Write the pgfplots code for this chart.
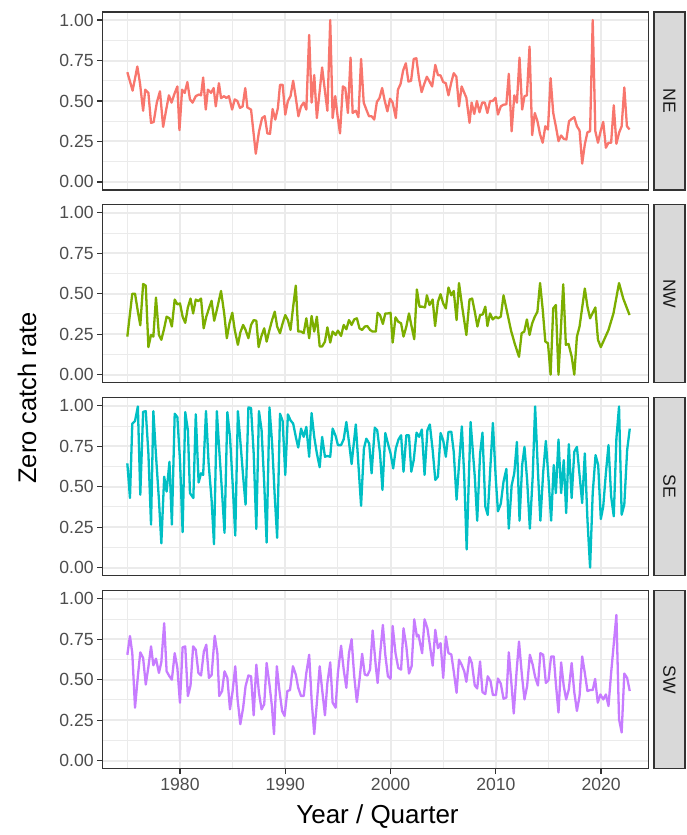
\documentclass[border=0pt]{standalone}
\usepackage{pgfplots}
\pgfplotsset{compat=1.18}
\usepackage{fontspec}
\setmainfont{Liberation Sans}
\definecolor{gridc}{RGB}{235,235,235}
\definecolor{gray20}{RGB}{51,51,51}
\definecolor{gray30}{RGB}{77,77,77}
\definecolor{gray10}{RGB}{26,26,26}
\definecolor{gray85}{RGB}{217,217,217}
\definecolor{cNE}{HTML}{F8766D}
\definecolor{cNW}{HTML}{7CAE00}
\definecolor{cSE}{HTML}{00BFC4}
\definecolor{cSW}{HTML}{C77CFF}
\pgfplotsset{
  panel/.style={
    scale only axis, width=545.6pt, height=178pt,
    xmin=1972.66, xmax=2024.48, ymin=-0.05, ymax=1.05,
    axis line style={draw=gray20, line width=1.3pt},
    xtick={1980,1990,2000,2010,2020},
    xticklabels={1980,1990,2000,2010,2020},
    minor xtick={1975,1985,1995,2005,2015},
    ytick={0,0.25,0.5,0.75,1},
    yticklabels={0.00,0.25,0.50,0.75,1.00},
    minor ytick={0.125,0.375,0.625,0.875},
    grid=both,
    major grid style={draw=gridc, line width=2pt},
    minor grid style={draw=gridc, line width=1pt},
    tick align=outside, tick pos=left,
    major tick length=5.5pt,
    minor tick length=0pt,
    every tick/.style={draw=gray20, line width=1.3pt},
    yticklabel style={font=\fontsize{17.6}{20}\selectfont, text=gray30},
    xticklabel style={font=\fontsize{17.6}{20}\selectfont, text=gray30},
  },
  upper/.style={xticklabels={}, major x tick style={draw=none}},
}
\begin{document}
\begin{tikzpicture}
\path[use as bounding box] (0,0) rectangle (686pt,-835pt);

\begin{axis}[panel, upper, at={(102.7pt,-12pt)}, anchor=north west]
\addplot[cNE, line width=2.3pt, line join=round] coordinates {
(1975.0,0.678)(1975.5,0.564)(1975.95,0.713)(1976.2,0.61)(1976.5,0.44)(1976.7,0.57)(1977.0,0.55)(1977.25,0.365)(1977.5,0.37)(1977.8,0.49)(1978.1,0.56)(1978.4,0.34)(1978.7,0.45)(1978.95,0.535)(1979.2,0.49)(1979.45,0.54)(1979.75,0.59)(1979.95,0.32)(1980.2,0.57)(1980.45,0.55)(1980.7,0.617)(1980.95,0.51)(1981.2,0.49)(1981.5,0.53)(1981.8,0.54)(1982.0,0.535)(1982.2,0.645)(1982.45,0.447)(1982.65,0.57)(1982.95,0.55)(1983.2,0.58)(1983.4,0.467)(1983.7,0.61)(1983.9,0.518)(1984.2,0.53)(1984.4,0.518)(1984.65,0.53)(1984.95,0.447)(1985.2,0.51)(1985.45,0.5)(1985.7,0.457)(1985.95,0.467)(1986.2,0.58)(1986.4,0.46)(1986.75,0.447)(1987.2,0.174)(1987.5,0.31)(1987.8,0.395)(1988.05,0.406)(1988.3,0.30)(1988.55,0.297)(1988.8,0.45)(1989.05,0.385)(1989.3,0.457)(1989.5,0.60)(1989.75,0.60)(1990.0,0.416)(1990.25,0.50)(1990.5,0.53)(1990.75,0.625)(1991.0,0.52)(1991.25,0.406)(1991.5,0.467)(1991.75,0.49)(1992.0,0.447)(1992.27,0.908)(1992.5,0.49)(1992.75,0.66)(1993.0,0.395)(1993.25,0.55)(1993.5,0.707)(1993.77,0.56)(1994.0,0.44)(1994.27,1.0)(1994.5,0.395)(1994.75,0.53)(1994.97,0.406)(1995.2,0.30)(1995.47,0.59)(1995.7,0.58)(1995.95,0.426)(1996.2,0.768)(1996.4,0.426)(1996.7,0.44)(1996.95,0.40)(1997.2,0.76)(1997.45,0.49)(1997.7,0.447)(1997.95,0.406)(1998.2,0.406)(1998.45,0.385)(1998.7,0.494)(1998.95,0.518)(1999.2,0.58)(1999.45,0.50)(1999.7,0.436)(1999.95,0.514)(2000.2,0.49)(2000.5,0.395)(2000.7,0.57)(2000.95,0.605)(2001.2,0.69)(2001.45,0.733)(2001.7,0.62)(2001.95,0.625)(2002.2,0.76)(2002.45,0.764)(2002.7,0.64)(2002.95,0.555)(2003.2,0.605)(2003.45,0.65)(2003.7,0.62)(2003.95,0.59)(2004.25,0.723)(2004.5,0.66)(2004.75,0.658)(2005.0,0.617)(2005.25,0.61)(2005.5,0.535)(2005.75,0.61)(2006.0,0.672)(2006.25,0.65)(2006.5,0.467)(2006.75,0.59)(2007.2,0.52)(2007.5,0.365)(2007.7,0.49)(2007.95,0.42)(2008.2,0.50)(2008.45,0.43)(2008.7,0.49)(2008.95,0.49)(2009.2,0.426)(2009.45,0.50)(2009.7,0.50)(2009.97,0.52)(2010.2,0.416)(2010.47,0.467)(2010.73,0.477)(2011.0,0.48)(2011.23,0.668)(2011.5,0.313)(2011.75,0.535)(2012.0,0.49)(2012.25,0.768)(2012.5,0.447)(2012.72,0.53)(2012.95,0.535)(2013.2,0.836)(2013.45,0.289)(2013.7,0.426)(2013.95,0.375)(2014.2,0.293)(2014.45,0.242)(2014.7,0.344)(2014.95,0.324)(2015.2,0.641)(2015.45,0.426)(2015.7,0.344)(2015.95,0.252)(2016.2,0.287)(2016.45,0.266)(2016.7,0.262)(2016.95,0.375)(2017.2,0.389)(2017.45,0.40)(2017.7,0.344)(2017.95,0.318)(2018.2,0.113)(2018.45,0.232)(2018.7,0.307)(2018.95,0.313)(2019.2,1.0)(2019.45,0.313)(2019.7,0.242)(2019.95,0.313)(2020.2,0.371)(2020.45,0.211)(2020.7,0.242)(2020.95,0.242)(2021.2,0.473)(2021.45,0.236)(2021.7,0.303)(2021.95,0.344)(2022.2,0.584)(2022.45,0.344)(2022.7,0.324)
};
\end{axis}

\begin{axis}[panel, upper, at={(102.7pt,-204.7pt)}, anchor=north west]
\addplot[cNW, line width=2.3pt, line join=round] coordinates {
(1975.0,0.235)(1975.47,0.50)(1975.73,0.50)(1976.0,0.39)(1976.23,0.305)(1976.5,0.56)(1976.75,0.55)(1977.0,0.17)(1977.25,0.245)(1977.47,0.235)(1977.72,0.476)(1978.0,0.245)(1978.23,0.215)(1978.5,0.286)(1978.73,0.358)(1979.0,0.348)(1979.23,0.297)(1979.5,0.464)(1979.75,0.434)(1980.0,0.44)(1980.25,0.358)(1980.5,0.32)(1980.75,0.415)(1981.0,0.47)(1981.25,0.378)(1981.5,0.464)(1981.75,0.454)(1982.0,0.47)(1982.25,0.286)(1982.5,0.358)(1982.75,0.409)(1983.0,0.456)(1983.25,0.333)(1983.5,0.40)(1983.9,0.517)(1984.2,0.378)(1984.45,0.225)(1984.7,0.317)(1984.97,0.382)(1985.2,0.276)(1985.5,0.184)(1985.73,0.26)(1986.0,0.307)(1986.23,0.276)(1986.5,0.225)(1986.75,0.307)(1987.0,0.337)(1987.25,0.333)(1987.47,0.17)(1987.72,0.235)(1988.0,0.286)(1988.23,0.204)(1988.5,0.276)(1988.73,0.333)(1989.0,0.389)(1989.23,0.297)(1989.5,0.256)(1989.75,0.317)(1990.0,0.368)(1990.25,0.337)(1990.5,0.276)(1990.75,0.42)(1991.0,0.55)(1991.23,0.266)(1991.5,0.266)(1991.75,0.256)(1992.0,0.348)(1992.27,0.225)(1992.5,0.362)(1992.75,0.266)(1993.0,0.358)(1993.27,0.174)(1993.5,0.174)(1993.77,0.204)(1994.0,0.292)(1994.27,0.198)(1994.5,0.266)(1994.78,0.245)(1995.0,0.272)(1995.3,0.239)(1995.55,0.307)(1995.8,0.28)(1996.05,0.337)(1996.3,0.307)(1996.55,0.341)(1996.8,0.348)(1997.05,0.286)(1997.3,0.276)(1997.55,0.297)(1997.8,0.30)(1998.05,0.276)(1998.3,0.266)(1998.6,0.266)(1998.77,0.382)(1999.0,0.368)(1999.27,0.313)(1999.5,0.378)(1999.75,0.378)(2000.0,0.382)(2000.2,0.198)(2000.47,0.354)(2000.73,0.327)(2001.0,0.317)(2001.23,0.235)(2001.5,0.297)(2001.75,0.378)(2002.0,0.297)(2002.25,0.219)(2002.5,0.526)(2002.75,0.42)(2003.0,0.42)(2003.27,0.415)(2003.45,0.49)(2003.7,0.43)(2004.0,0.464)(2004.23,0.30)(2004.5,0.45)(2004.75,0.497)(2005.0,0.44)(2005.25,0.409)(2005.5,0.538)(2005.77,0.49)(2006.0,0.517)(2006.27,0.337)(2006.5,0.566)(2006.8,0.42)(2007.2,0.245)(2007.5,0.464)(2007.75,0.47)(2008.0,0.389)(2008.25,0.297)(2008.5,0.368)(2008.75,0.372)(2009.0,0.42)(2009.2,0.30)(2009.45,0.378)(2009.7,0.341)(2010.0,0.358)(2010.2,0.348)(2010.47,0.358)(2010.73,0.49)(2011.45,0.27)(2011.8,0.19)(2012.2,0.11)(2012.45,0.256)(2012.7,0.266)(2012.95,0.341)(2013.2,0.245)(2013.45,0.317)(2013.7,0.358)(2013.95,0.389)(2014.2,0.566)(2014.45,0.403)(2014.7,0.204)(2014.95,0.194)(2015.2,0.0)(2015.45,0.409)(2015.7,0.43)(2015.95,0.0)(2016.4,0.558)(2016.65,0.184)(2016.9,0.19)(2017.2,0.112)(2017.45,0.0)(2017.7,0.235)(2017.95,0.297)(2018.45,0.532)(2018.7,0.42)(2018.95,0.348)(2019.45,0.415)(2019.7,0.215)(2019.97,0.17)(2020.7,0.276)(2021.17,0.378)(2021.7,0.566)(2022.1,0.47)(2022.7,0.368)
};
\end{axis}

\begin{axis}[panel, upper, at={(102.7pt,-397.7pt)}, anchor=north west]
\addplot[cSE, line width=2.3pt, line join=round] coordinates {
(1975.0,0.644)(1975.25,0.43)(1975.47,0.89)(1975.73,0.906)(1976.0,0.996)(1976.23,0.45)(1976.5,0.963)(1976.75,0.967)(1977.0,0.706)(1977.25,0.266)(1977.47,0.967)(1977.72,0.695)(1978.0,0.42)(1978.23,0.15)(1978.5,0.562)(1978.73,0.47)(1979.0,0.654)(1979.23,0.266)(1979.5,0.951)(1979.75,0.93)(1980.0,0.664)(1980.25,0.219)(1980.5,0.961)(1980.75,0.85)(1980.95,0.46)(1981.27,0.43)(1981.5,0.947)(1981.77,0.526)(1982.0,0.583)(1982.2,0.573)(1982.47,0.967)(1982.72,0.644)(1983.0,0.42)(1983.23,0.145)(1983.5,0.967)(1983.72,0.736)(1984.0,0.46)(1984.23,0.215)(1984.5,0.961)(1984.75,0.808)(1985.0,0.521)(1985.25,0.198)(1985.5,0.967)(1985.75,0.767)(1986.0,0.562)(1986.23,0.389)(1986.5,0.99)(1986.75,0.986)(1987.0,0.706)(1987.25,0.239)(1987.5,0.967)(1987.75,0.85)(1988.0,0.521)(1988.23,0.155)(1988.5,0.99)(1988.75,0.767)(1989.0,0.44)(1989.23,0.184)(1989.5,0.951)(1989.75,0.906)(1990.0,0.573)(1990.25,0.947)(1990.5,0.91)(1990.75,0.89)(1991.0,0.808)(1991.23,0.742)(1991.5,0.859)(1991.75,0.808)(1992.0,0.87)(1992.27,0.685)(1992.5,0.955)(1992.75,0.808)(1993.0,0.706)(1993.27,0.62)(1993.5,0.808)(1993.77,0.685)(1994.0,0.69)(1994.27,0.685)(1994.5,0.859)(1994.78,0.814)(1995.0,0.757)(1995.3,0.757)(1995.55,0.793)(1995.8,0.9)(1996.05,0.777)(1996.3,0.64)(1996.7,0.885)(1997.2,0.382)(1997.47,0.736)(1997.7,0.797)(1997.97,0.767)(1998.2,0.583)(1998.5,0.865)(1998.73,0.85)(1999.0,0.706)(1999.23,0.48)(1999.5,0.832)(1999.75,0.767)(2000.0,0.706)(2000.25,0.613)(2000.5,0.736)(2000.75,0.791)(2001.0,0.818)(2001.23,0.593)(2001.5,0.818)(2001.75,0.818)(2001.97,0.593)(2002.2,0.664)(2002.47,0.834)(2002.72,0.808)(2002.97,0.853)(2003.23,0.573)(2003.5,0.849)(2003.73,0.885)(2004.0,0.726)(2004.25,0.542)(2004.5,0.562)(2004.75,0.832)(2005.0,0.787)(2005.25,0.685)(2005.5,0.838)(2005.77,0.84)(2006.0,0.716)(2006.27,0.42)(2006.5,0.634)(2006.77,0.873)(2007.0,0.562)(2007.23,0.112)(2007.6,0.9)(2008.0,0.562)(2008.23,0.29)(2008.5,0.70)(2008.73,0.834)(2009.0,0.378)(2009.23,0.325)(2009.5,0.644)(2009.72,0.894)(2010.0,0.542)(2010.2,0.348)(2010.47,0.395)(2010.73,0.532)(2011.0,0.61)(2011.23,0.241)(2011.5,0.507)(2011.75,0.583)(2012.0,0.777)(2012.25,0.29)(2012.5,0.634)(2012.72,0.746)(2012.97,0.542)(2013.23,0.241)(2013.5,0.562)(2013.73,0.996)(2014.0,0.593)(2014.23,0.29)(2014.5,0.593)(2014.75,0.783)(2015.0,0.552)(2015.25,0.29)(2015.5,0.634)(2015.7,0.46)(2015.95,0.791)(2016.2,0.46)(2016.45,0.664)(2016.68,0.337)(2016.93,0.763)(2017.2,0.43)(2017.45,0.716)(2017.7,0.746)(2017.95,0.573)(2018.2,0.399)(2018.45,0.706)(2018.7,0.297)(2018.95,0.0)(2019.2,0.46)(2019.47,0.695)(2019.72,0.634)(2019.97,0.30)(2020.2,0.378)(2020.45,0.583)(2020.7,0.757)(2020.95,0.44)(2021.2,0.317)(2021.45,0.798)(2021.7,0.996)(2021.95,0.327)(2022.2,0.389)(2022.47,0.726)(2022.72,0.859)
};
\end{axis}

\begin{axis}[panel, at={(102.7pt,-590.7pt)}, anchor=north west]
\addplot[cSW, line width=2.3pt, line join=round] coordinates {
(1975.0,0.654)(1975.25,0.77)(1975.47,0.664)(1975.73,0.327)(1976.0,0.521)(1976.23,0.669)(1976.5,0.634)(1976.75,0.47)(1977.0,0.579)(1977.25,0.706)(1977.47,0.589)(1977.72,0.63)(1978.0,0.542)(1978.23,0.609)(1978.5,0.849)(1978.73,0.552)(1979.0,0.521)(1979.23,0.50)(1979.5,0.664)(1979.75,0.573)(1980.0,0.358)(1980.25,0.70)(1980.5,0.706)(1980.75,0.399)(1981.0,0.464)(1981.25,0.706)(1981.5,0.685)(1981.75,0.542)(1982.0,0.526)(1982.27,0.675)(1982.5,0.716)(1982.75,0.511)(1983.0,0.528)(1983.3,0.771)(1983.55,0.664)(1983.73,0.399)(1984.0,0.43)(1984.23,0.552)(1984.5,0.511)(1984.75,0.317)(1985.0,0.43)(1985.25,0.583)(1985.47,0.378)(1985.73,0.225)(1986.0,0.327)(1986.23,0.46)(1986.5,0.526)(1986.75,0.521)(1987.0,0.28)(1987.25,0.593)(1987.5,0.419)(1987.75,0.317)(1988.0,0.348)(1988.23,0.603)(1988.5,0.47)(1988.73,0.337)(1988.93,0.164)(1989.2,0.583)(1989.43,0.44)(1989.7,0.307)(1989.93,0.276)(1990.2,0.43)(1990.45,0.436)(1990.73,0.583)(1991.0,0.532)(1991.23,0.45)(1991.5,0.399)(1991.75,0.399)(1992.0,0.542)(1992.27,0.654)(1992.5,0.378)(1992.75,0.164)(1993.0,0.358)(1993.27,0.583)(1993.5,0.44)(1993.77,0.28)(1994.0,0.48)(1994.27,0.607)(1994.5,0.358)(1994.78,0.327)(1995.0,0.542)(1995.3,0.71)(1995.55,0.562)(1995.8,0.45)(1996.05,0.664)(1996.3,0.75)(1996.55,0.521)(1996.8,0.362)(1997.05,0.50)(1997.3,0.66)(1997.55,0.532)(1997.8,0.526)(1998.05,0.562)(1998.3,0.804)(1998.6,0.583)(1998.77,0.48)(1999.0,0.654)(1999.27,0.838)(1999.5,0.654)(1999.75,0.521)(2000.0,0.505)(2000.2,0.832)(2000.47,0.664)(2000.73,0.573)(2001.0,0.562)(2001.23,0.818)(2001.5,0.706)(2001.75,0.538)(2002.0,0.583)(2002.25,0.873)(2002.5,0.767)(2002.65,0.777)(2003.0,0.664)(2003.23,0.873)(2003.5,0.818)(2003.73,0.716)(2004.0,0.587)(2004.25,0.808)(2004.5,0.695)(2004.75,0.726)(2005.0,0.511)(2005.25,0.767)(2005.5,0.664)(2005.77,0.656)(2006.0,0.552)(2006.27,0.419)(2006.5,0.624)(2006.75,0.593)(2007.0,0.552)(2007.2,0.487)(2007.5,0.64)(2007.72,0.603)(2008.0,0.464)(2008.23,0.446)(2008.5,0.613)(2008.73,0.423)(2009.0,0.411)(2009.23,0.521)(2009.5,0.49)(2009.72,0.405)(2010.0,0.405)(2010.2,0.507)(2010.47,0.476)(2010.73,0.382)(2011.0,0.39)(2011.23,0.669)(2011.5,0.46)(2011.7,0.292)(2011.97,0.552)(2012.2,0.736)(2012.47,0.532)(2012.72,0.378)(2012.97,0.46)(2013.23,0.654)(2013.5,0.593)(2013.73,0.517)(2014.0,0.464)(2014.23,0.664)(2014.5,0.654)(2014.75,0.48)(2015.0,0.497)(2015.25,0.644)(2015.5,0.644)(2015.7,0.476)(2015.95,0.297)(2016.2,0.607)(2016.45,0.46)(2016.68,0.378)(2016.93,0.44)(2017.2,0.603)(2017.45,0.423)(2017.7,0.307)(2017.95,0.399)(2018.2,0.644)(2018.45,0.542)(2018.7,0.43)(2018.95,0.436)(2019.2,0.436)(2019.43,0.505)(2019.68,0.358)(2019.93,0.409)(2020.2,0.378)(2020.45,0.409)(2020.7,0.337)(2020.95,0.542)(2021.45,0.90)(2021.7,0.256)(2021.95,0.174)(2022.2,0.538)(2022.47,0.511)(2022.72,0.43)
};
\end{axis}

% facet strips
\draw[fill=gray85, draw=gray20, line width=1.3pt] (654pt,-12pt) rectangle (685pt,-190pt);
\node[rotate=-90, text=gray10, font=\fontsize{17.6}{20}\selectfont] at (669.5pt,-101pt) {NE};
\draw[fill=gray85, draw=gray20, line width=1.3pt] (654pt,-204.7pt) rectangle (685pt,-382.7pt);
\node[rotate=-90, text=gray10, font=\fontsize{17.6}{20}\selectfont] at (669.5pt,-293.7pt) {NW};
\draw[fill=gray85, draw=gray20, line width=1.3pt] (654pt,-397.7pt) rectangle (685pt,-575.7pt);
\node[rotate=-90, text=gray10, font=\fontsize{17.6}{20}\selectfont] at (669.5pt,-486.7pt) {SE};
\draw[fill=gray85, draw=gray20, line width=1.3pt] (654pt,-590.7pt) rectangle (685pt,-768.7pt);
\node[rotate=-90, text=gray10, font=\fontsize{17.6}{20}\selectfont] at (669.5pt,-679.7pt) {SW};

% axis titles
\node[rotate=90, font=\fontsize{25.5}{30}\selectfont] at (27pt,-398pt) {Zero catch rate};
\node[font=\fontsize{26}{30}\selectfont] at (377.5pt,-817pt) {Year / Quarter};
\end{tikzpicture}
\end{document}
